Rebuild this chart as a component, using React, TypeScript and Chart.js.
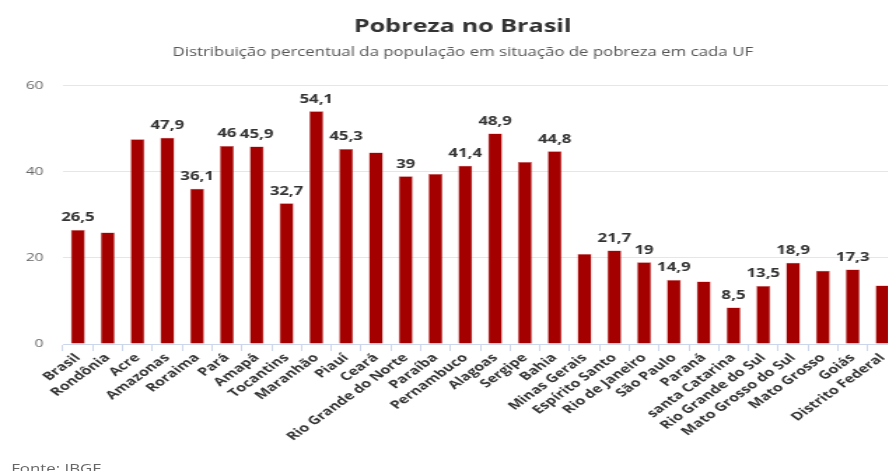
import React, { useEffect, useRef } from "react";
import { Chart, registerables } from "chart.js";

Chart.register(...registerables);

const categories = [
  "Brasil", "Rondônia", "Acre", "Amazonas", "Roraima", "Pará", "Amapá", "Tocantins",
  "Maranhão", "Piauí", "Ceará", "Rio Grande do Norte", "Paraíba", "Pernambuco", "Alagoas",
  "Sergipe", "Bahia", "Minas Gerais", "Espírito Santo", "Rio de Janeiro", "São Paulo",
  "Paraná", "santa Catarina", "Rio Grande do Sul", "Mato Grosso do Sul", "Mato Grosso",
  "Goiás", "Distrito Federal",
];

const values = [
  26.5, 25.9, 47.6, 47.9, 36.1, 46, 45.9, 32.7,
  54.1, 45.3, 44.5, 39, 39.5, 41.4, 48.9,
  42.3, 44.8, 20.9, 21.7, 19, 14.9,
  14.5, 8.5, 13.5, 18.9, 17.0,
  17.3, 13.6,
];

// which bars carry a visible value label in the reference
const showLabel = [
  true, false, false, true, true, true, true, true,
  true, true, false, true, false, true, true,
  false, true, false, true, true, true,
  false, true, true, true, false,
  true, false,
];

const yTicks = [0, 20, 40, 60];

const FONT = "'Open Sans', 'DejaVu Sans', sans-serif";

// the reference image is horizontally stretched; render narrower and stretch
const SX = 1.4;
const CW = 661;
const CH = 471;

const valueLabels = {
  id: "valueLabels",
  afterDatasetsDraw(chart: any) {
    const ctx = chart.ctx;
    const meta = chart.getDatasetMeta(0);
    ctx.save();
    ctx.font = `bold 12px ${FONT}`;
    ctx.fillStyle = "#333333";
    ctx.textAlign = "center";
    ctx.textBaseline = "bottom";
    meta.data.forEach((bar: any, i: number) => {
      if (!showLabel[i]) return;
      const txt = String(values[i]).replace(".", ",");
      ctx.fillText(txt, bar.x, bar.y - 6);
    });
    ctx.restore();
  },
};

export default function App() {
  const ref = useRef<HTMLCanvasElement | null>(null);

  useEffect(() => {
    if (!ref.current) return;
    const chart = new Chart(ref.current, {
      type: "bar",
      data: {
        labels: categories,
        datasets: [
          {
            data: values,
            backgroundColor: "#a50000",
            borderColor: "#c86a6a",
            borderWidth: 0.5,
            categoryPercentage: 1,
            barPercentage: 0.47,
            yAxisID: "y",
          },
        ],
      },
      options: {
        animation: false,
        responsive: false,
        maintainAspectRatio: false,
        devicePixelRatio: 1,
        layout: { padding: { left: 0, right: 0, top: 0, bottom: 0 } },
        plugins: {
          legend: { display: false },
          tooltip: { enabled: false },
          title: {
            display: true,
            text: "Pobreza no Brasil",
            color: "#333333",
            font: { family: FONT, size: 18, weight: "bold", lineHeight: 1.2 },
            padding: { top: 16, bottom: 8 },
          },
          subtitle: {
            display: true,
            text: "Distribuição percentual da população em situação de pobreza em cada UF",
            color: "#555555",
            font: { family: FONT, size: 12, lineHeight: 1.2 },
            padding: { top: 0, bottom: 25.8 },
          },
        },
        scales: {
          x: {
            offset: true,
            grid: {
              offset: true,
              drawOnChartArea: false,
              drawTicks: true,
              tickLength: 7,
              color: "#ccd6eb",
            },
            border: { color: "#ccd6eb" },
            ticks: {
              color: "#333333",
              font: { family: FONT, size: 11.5, weight: "bold" },
              maxRotation: 45,
              minRotation: 45,
              autoSkip: false,
              padding: 0,
            },
            afterFit(scale: any) {
              scale.height = 127;
            },
          },
          y: {
            position: "left",
            min: 0,
            max: 60,
            afterBuildTicks(scale: any) {
              scale.ticks = yTicks.map((v) => ({ value: v }));
            },
            grid: { color: "#e6e6e6", drawTicks: false },
            border: { display: false },
            ticks: {
              color: "#666666",
              font: { family: FONT, size: 11 },
              padding: 14,
            },
            afterFit(scale: any) {
              scale.width = 45;
            },
          },
          yRight: {
            position: "right",
            min: 0,
            max: 60,
            grid: { display: false, drawTicks: false },
            border: { display: false },
            ticks: { display: false },
            afterFit(scale: any) {
              scale.width = 20;
            },
          },
        },
      },
      plugins: [valueLabels],
    });
    return () => chart.destroy();
  }, []);

  return (
    <div style={{ position: "fixed", left: 0, top: 0, width: 888, height: CH, overflow: "hidden", background: "#fff" }}>
      <div
        style={{
          position: "absolute",
          left: 0,
          top: 0,
          width: CW,
          height: CH,
          transform: `scaleX(${SX})`,
          transformOrigin: "0 0",
        }}
      >
        <canvas ref={ref} width={CW} height={CH} style={{ width: CW, height: CH, display: "block" }} />
        <div
          style={{
            position: "absolute",
            left: 8,
            top: 461,
            fontFamily: FONT,
            fontSize: 12,
            lineHeight: "16px",
            color: "#666666",
            whiteSpace: "nowrap",
          }}
        >
          Fonte: IBGE
        </div>
      </div>
    </div>
  );
}
